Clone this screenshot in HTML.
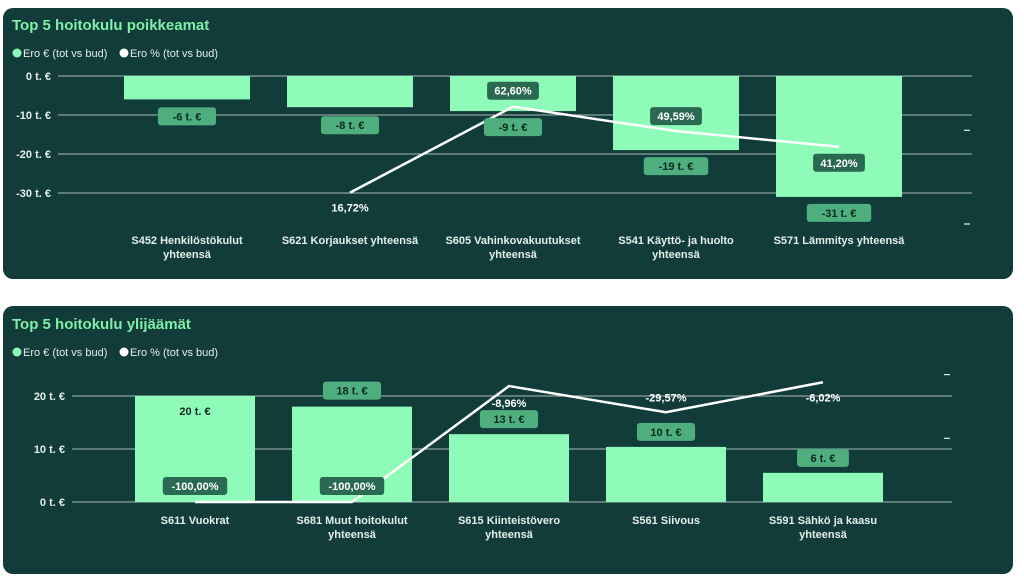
<!DOCTYPE html>
<html><head><meta charset="utf-8">
<style>
body{margin:0;background:#fff;width:1024px;height:578px;overflow:hidden;font-family:"Liberation Sans",sans-serif;}
svg{position:absolute;left:0;top:0;}
</style></head>
<body>
<svg id="s" width="1024" height="578" font-family="Liberation Sans, sans-serif">
  <rect x="3" y="8" width="1010" height="271" rx="10" fill="#113c39"/>
  <rect x="3" y="306" width="1010" height="268" rx="10" fill="#113c39"/>
  <text x="12" y="30" font-size="15" font-weight="bold" fill="#7ef0a8">Top 5 hoitokulu poikkeamat</text>
  <text x="12" y="329" font-size="15" font-weight="bold" fill="#7ef0a8">Top 5 hoitokulu ylijäämät</text>
  <g>
    <circle cx="17" cy="53" r="4.5" fill="#8ffbb8"/><text x="23" y="57" font-size="11" fill="#e6eee9">Ero € (tot vs bud)</text>
    <circle cx="124" cy="53" r="4.5" fill="#fff"/><text x="130" y="57" font-size="11" fill="#e6eee9">Ero % (tot vs bud)</text>
  </g>
  <g>
    <circle cx="17" cy="352" r="4.5" fill="#8ffbb8"/><text x="23" y="356" font-size="11" fill="#e6eee9">Ero € (tot vs bud)</text>
    <circle cx="124" cy="352" r="4.5" fill="#fff"/><text x="130" y="356" font-size="11" fill="#e6eee9">Ero % (tot vs bud)</text>
  </g>
  <g id="c1"></g><g id="c2"></g>
</svg>
<script>
// Chart 1 data
const cats1=["S452 Henkilöstökulut|yhteensä","S621 Korjaukset yhteensä","S605 Vahinkovakuutukset|yhteensä","S541 Käyttö- ja huolto|yhteensä","S571 Lämmitys yhteensä"];
const vals1=[-6,-8,-9,-19,-31];
const pct1=[null,16.72,62.60,49.59,41.20];
const ticks1=[0,-10,-20,-30];
const pctTicks1=[0,50];
// Chart 2 data
const cats2=["S611 Vuokrat","S681 Muut hoitokulut|yhteensä","S615 Kiinteistövero|yhteensä","S561 Siivous","S591 Sähkö ja kaasu|yhteensä"];
const vals2=[20,18,12.8,10.4,5.5];
const pct2=[-100,-100,-8.96,-29.57,-6.02];
const ticks2=[0,10,20];
const pctTicks2=[0,-50];

const NS="http://www.w3.org/2000/svg";
function mk(p,t,a){const e=document.createElementNS(NS,t);for(const k in a)e.setAttribute(k,a[k]);p.appendChild(e);return e;}
function fmtE(v){return Math.round(v)+" t. €";}
function fmtP(v){return v.toFixed(2).replace(".",",")+"%";}
function box(g,cx,cy,txt,light){
  const w=txt.length*6.3+14;
  const b=mk(g,"rect",{x:cx-w/2,y:cy-9,width:w,height:18,rx:3,fill:light?"#4fae7e":"#2a6a52"});
  
  
  const t=mk(g,"text",{x:cx,y:cy+4,"text-anchor":"middle","font-size":11,"font-weight":"bold",fill:light?"#0c2a22":"#fff"});
  t.textContent=txt;
  
  
}
function draw(cfg){
  const g=document.getElementById(cfg.id);
  const y=v=>cfg.y0-v*cfg.ky, yp=p=>cfg.p0-p*cfg.kp;
  const x=i=>cfg.x0+i*cfg.step;
  cfg.ticks.forEach(t=>{
    const l=mk(g,"line",{x1:cfg.gx0,x2:cfg.gx1,y1:y(t),y2:y(t),stroke:"#a9bdb7","stroke-width":1});
    
    
    const tx=mk(g,"text",{x:cfg.gx0-7,y:y(t)+4,"text-anchor":"end","font-size":11,"font-weight":"bold",fill:"#e6eee9"});
    tx.textContent=t+" t. €";
    
    
  });
  cfg.pticks.forEach(p=>{
    const l=mk(g,"line",{x1:cfg.gx1-8,x2:cfg.gx1-2,y1:yp(p),y2:yp(p),stroke:"#e6eee9","stroke-width":1.2});
    
    
  });
  cfg.vals.forEach((v,i)=>{
    const top=Math.min(y(0),y(v)),h=Math.abs(y(v)-y(0));
    const r=mk(g,"rect",{x:x(i)-cfg.bw/2,y:top,width:cfg.bw,height:h,fill:"#8ffbb8"});
    
    
    const lines=cfg.cats[i].split("|");
    lines.forEach((s,j)=>{
      const t=mk(g,"text",{x:x(i),y:cfg.cy+j*14,"text-anchor":"middle","font-size":11,"font-weight":"bold",fill:"#e6eee9"});
      t.textContent=s;
      
      
    });
  });
  const pts=[];cfg.pct.forEach((p,i)=>{if(p!==null)pts.push([x(i),yp(p)]);});
  const pl=mk(g,"polyline",{points:pts.map(p=>p.join(",")).join(" "),fill:"none",stroke:"#fff","stroke-width":2.5});
  
  
  cfg.labels(g,x,y,yp);
}
draw({id:"c1",cats:cats1,vals:vals1,pct:pct1,ticks:ticks1,pticks:pctTicks1,y0:76,ky:3.9,p0:224,kp:1.874,x0:187,step:163,bw:126,gx0:58,gx1:972,cy:244,
 labels:(g,x,y,yp)=>{
  vals1.forEach((v,i)=>box(g,x(i),y(v)+[17,18,16,16,16][i],fmtE(v),true));
  const off=[0,15,-16,-15,16];
  pct1.forEach((p,i)=>{if(p===null)return;
    if(i===1){const t=mk(g,"text",{x:x(i),y:yp(p)+19,"text-anchor":"middle","font-size":11,"font-weight":"bold",fill:"#fff"});t.textContent=fmtP(p);
      
      }
    else box(g,x(i),yp(p)+off[i],fmtP(p),false);});
 }});
draw({id:"c2",cats:cats2,vals:vals2,pct:pct2,ticks:ticks2,pticks:pctTicks2,y0:502,ky:5.3,p0:374.6,kp:1.274,x0:195,step:157,bw:120,gx0:72,gx1:952,cy:524,
 labels:(g,x,y,yp)=>{
  vals2.forEach((v,i)=>{
    if(i===0){const t=mk(g,"text",{x:x(i),y:y(v)+19,"text-anchor":"middle","font-size":11,"font-weight":"bold",fill:"#0c2a22"});t.textContent=fmtE(v);
      
      }
    else box(g,x(i),y(v)-[0,16,15,15,15][i],fmtE(v),true);});
  pct2.forEach((p,i)=>{
    if(i<2) box(g,x(i),yp(p)-16,fmtP(p),false);
    else {const t=mk(g,"text",{x:x(i),y:yp(p)+[0,0,21,-11,19][i],"text-anchor":"middle","font-size":11,"font-weight":"bold",fill:"#fff"});t.textContent=fmtP(p);
      
      }
  });
 }});
</script>
</body></html>
